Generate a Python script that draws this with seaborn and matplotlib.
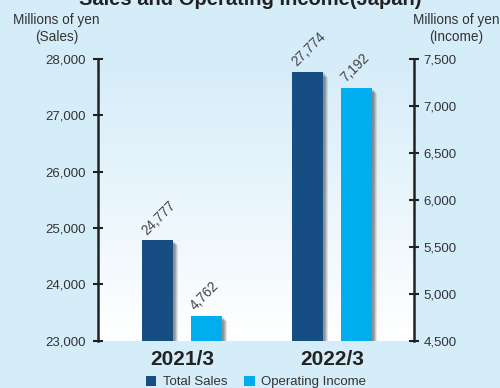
import numpy as np
import pandas as pd
import matplotlib
matplotlib.use("Agg")
import matplotlib.pyplot as plt
import seaborn as sns
from matplotlib.colors import LinearSegmentedColormap
from matplotlib.patches import Patch
import matplotlib.patheffects as pe

# ---- data ----
categories = ["2021/3", "2022/3"]
series_names = ["Total Sales", "Operating Income"]
total_sales = [24777, 27774]
operating_income = [4762, 7192]
sales_ticks = [23000, 24000, 25000, 26000, 27000, 28000]
income_ticks = [4500, 5000, 5500, 6000, 6500, 7000, 7500]

# ---- style ----
BG = "#d5ecf9"
C_SALES = "#164e83"
C_INC = "#00aeef"
TXT = "#333333"

sns.set_theme(style="white")
plt.rcParams["font.family"] = ["Liberation Sans", "DejaVu Sans"]

df = pd.DataFrame({
    "period": categories * 2,
    "series": [series_names[0]] * len(categories) + [series_names[1]] * len(categories),
    "value": total_sales + operating_income,
})

fig = plt.figure(figsize=(5, 3.88), dpi=100, facecolor=BG)
ax = fig.add_axes([0.196, 0.1224, 0.632, 0.7255])
ax.set_facecolor("none")
ax2 = ax.twinx()

palette = {series_names[0]: C_SALES, series_names[1]: C_INC}
common = dict(x="period", y="value", hue="series", hue_order=series_names,
              order=categories, palette=palette, width=0.653, gap=0.366,
              dodge=True, legend=False, saturation=1, linewidth=0, edgecolor="none")
sns.barplot(data=df[df.series == series_names[0]], ax=ax, **common)
sns.barplot(data=df[df.series == series_names[1]], ax=ax2, **common)

xlim = (-0.56, 1.547)
ax.set_xlim(*xlim)
ax.set_ylim(23000, 28000)
ax2.set_ylim(4500, 7500)

# gradient background in plot area
cmap = LinearSegmentedColormap.from_list("bg", [BG, "#ffffff"])
ax.imshow(np.linspace(0, 1, 256).reshape(-1, 1), extent=[xlim[0], xlim[1], 23000, 28000],
          aspect="auto", cmap=cmap, origin="upper", zorder=0)
ax.set_xlim(*xlim)
ax.set_ylim(23000, 28000)

shadow = [pe.SimplePatchShadow(offset=(3.5, -3.5), shadow_rgbFace="#333333", alpha=0.12),
          pe.SimplePatchShadow(offset=(2.8, -2.8), shadow_rgbFace="#333333", alpha=0.15),
          pe.SimplePatchShadow(offset=(2.0, -2.0), shadow_rgbFace="#333333", alpha=0.2),
          pe.SimplePatchShadow(offset=(1.2, -1.2), shadow_rgbFace="#333333", alpha=0.2),
          pe.Normal()]
for a in (ax, ax2):
    for p in a.patches:
        p.set_path_effects(shadow)
        p.set_zorder(3)
        p.set_linewidth(0)
    for c in a.containers:
        for bar in c:
            h = bar.get_height()
            if np.isnan(h) or h == 0:
                continue
            a.annotate(f"{int(round(bar.get_y() + h)):,}",
                       xy=(bar.get_x(), bar.get_y() + h), xytext=(5, 2), textcoords="offset points",
                       rotation=45, rotation_mode="anchor", ha="left", va="bottom",
                       fontsize=9.8, color="#444444", zorder=5)

# axes styling
for a in (ax, ax2):
    a.set_xlabel("")
    a.set_ylabel("")
    a.grid(False)
    for s in ("top", "bottom"):
        a.spines[s].set_visible(False)
ax.spines["right"].set_visible(False)
ax2.spines["left"].set_visible(False)
ax.spines["left"].set_color("#222222")
ax.spines["left"].set_linewidth(1.8)
ax2.spines["right"].set_color("#222222")
ax2.spines["right"].set_linewidth(1.8)

ax.set_yticks(sales_ticks)
ax.set_yticklabels([f"{t:,}" for t in sales_ticks])
ax2.set_yticks(income_ticks)
ax2.set_yticklabels([f"{t:,}" for t in income_ticks])
ax.tick_params(axis="y", direction="inout", length=7, width=1.5, color="#222222",
               labelsize=9.5, labelcolor=TXT, pad=5, left=True, right=False)
ax2.tick_params(axis="y", direction="inout", length=7, width=1.5, color="#222222",
                labelsize=9.5, labelcolor=TXT, pad=3.5, right=True, left=False)
ax.tick_params(axis="x", length=0, pad=6.5, labelsize=15, labelcolor="#222222")
for lbl in ax.get_xticklabels():
    lbl.set_fontweight("bold")
ax2.tick_params(axis="x", bottom=False, labelbottom=False, top=False, labeltop=False)

# titles / axis captions
fig.text(0.5, 1 - 5 / 388, "Sales and Operating Income(Japan)", ha="center", va="baseline",
         fontsize=14.5, fontweight="bold", color="#222222")
fig.text(56.5 / 500, 1 - 13 / 388, "Millions of yen\n(Sales)", ha="center", va="top",
         fontsize=9.8, color=TXT, linespacing=1.3)
fig.text(456 / 500, 1 - 13 / 388, "Millions of yen\n(Income)", ha="center", va="top",
         fontsize=9.8, color=TXT, linespacing=1.3)

handles = [Patch(facecolor=palette[s], edgecolor="none", label=s) for s in series_names]
fig.legend(handles=handles, loc="center", bbox_to_anchor=(0.512, 1 - 382 / 388), ncol=2,
           frameon=False, fontsize=9.5, handlelength=0.8, handleheight=0.8,
           handletextpad=0.5, columnspacing=1.3, labelcolor=TXT)

fig.savefig("out.png", dpi=100, facecolor=BG)
